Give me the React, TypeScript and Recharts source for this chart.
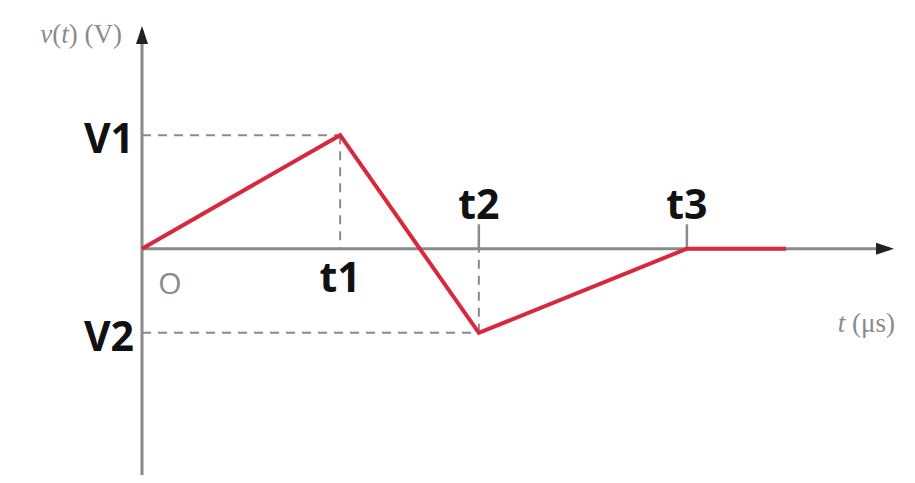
import React from 'react';
import { LineChart, Line, XAxis, YAxis, ReferenceLine, ReferenceDot } from 'recharts';

// waveform corner points (time in arbitrary units, voltage in arbitrary units)
const times = [0, 2, 3.4, 5.5, 6.5];
const volts = [0, 1.35, -1, 0, 0];
const T1 = 2;
const T2 = 3.4;
const T3 = 5.5;
const V1 = 1.35;
const V2 = -1;
const X_MAX = 7.55;
const Y_MIN = -2.69;
const Y_MAX = 2.6;

const data = times.map((t, i) => ({ t, v: volts[i] }));

const AXIS = '#8a8a8a';
const RED = '#d8283e';
const boldFont = '"Open Sans", "Noto Sans", sans-serif';
const serif = '"Liberation Serif", "DejaVu Serif", serif';

const textDot = (txt: React.ReactNode, opts: { anchor?: string; dx?: number; dy?: number; size?: number; color?: string; weight?: number | string; family?: string }) =>
  (p: any) => (
    <text
      x={p.cx + (opts.dx || 0)}
      y={p.cy + (opts.dy || 0)}
      textAnchor={opts.anchor || 'middle'}
      dominantBaseline="central"
      fontSize={opts.size || 41}
      fontWeight={opts.weight || 700}
      fontFamily={opts.family || boldFont}
      fill={opts.color || '#111'}
    >
      {txt}
    </text>
  );

const arrowRight = (p: any) => (
  <path d={`M${p.cx + 4},${p.cy} L${p.cx - 14},${p.cy - 6} L${p.cx - 14},${p.cy + 6} Z`} fill="#222" />
);
const arrowUp = (p: any) => (
  <path d={`M${p.cx},${p.cy - 4} L${p.cx - 6},${p.cy + 14} L${p.cx + 6},${p.cy + 14} Z`} fill="#222" />
);

const App: React.FC = () => {
  return (
    <div style={{ position: 'absolute', left: 0, top: 0, background: '#fff' }}>
      <LineChart width={915} height={483} data={data} margin={{ top: 30, right: 25, left: 142, bottom: 8 }}>
        <XAxis type="number" dataKey="t" domain={[0, X_MAX]} hide />
        <YAxis type="number" domain={[Y_MIN, Y_MAX]} hide />

        {/* axes */}
        <ReferenceLine segment={[{ x: 0, y: 0 }, { x: X_MAX, y: 0 }]} stroke={AXIS} strokeWidth={3} ifOverflow="visible" />
        <ReferenceLine segment={[{ x: 0, y: Y_MIN }, { x: 0, y: Y_MAX }]} stroke={AXIS} strokeWidth={3} ifOverflow="visible" />

        {/* dashed guides */}
        <ReferenceLine segment={[{ x: 0, y: V1 }, { x: T1, y: V1 }]} stroke={AXIS} strokeWidth={2} strokeDasharray="9 7" ifOverflow="visible" />
        <ReferenceLine segment={[{ x: T1, y: V1 }, { x: T1, y: 0 }]} stroke={AXIS} strokeWidth={2} strokeDasharray="9 7" ifOverflow="visible" />
        <ReferenceLine segment={[{ x: 0, y: V2 }, { x: T2, y: V2 }]} stroke={AXIS} strokeWidth={2} strokeDasharray="9 7" ifOverflow="visible" />
        <ReferenceLine segment={[{ x: T2, y: V2 }, { x: T2, y: 0 }]} stroke={AXIS} strokeWidth={2} strokeDasharray="9 7" ifOverflow="visible" />

        {/* small ticks above axis */}
        <ReferenceLine segment={[{ x: T2, y: 0 }, { x: T2, y: 0.29 }]} stroke={AXIS} strokeWidth={2.5} ifOverflow="visible" />
        <ReferenceLine segment={[{ x: T3, y: 0 }, { x: T3, y: 0.29 }]} stroke={AXIS} strokeWidth={2.5} ifOverflow="visible" />

        <Line
          type="linear"
          dataKey="v"
          stroke={RED}
          strokeWidth={4}
          dot={false}
          activeDot={false}
          isAnimationActive={false}
        />

        {/* arrowheads */}
        <ReferenceDot x={X_MAX} y={0} r={0} shape={arrowRight} ifOverflow="visible" />
        <ReferenceDot x={0} y={Y_MAX} r={0} shape={arrowUp} ifOverflow="visible" />

        {/* labels */}
        <ReferenceDot x={0} y={V1} r={0} ifOverflow="visible" shape={textDot('V1', { anchor: 'end', dx: -8, dy: 2 })} />
        <ReferenceDot x={0} y={V2} r={0} ifOverflow="visible" shape={textDot('V2', { anchor: 'end', dx: -8, dy: 2 })} />
        <ReferenceDot x={T1} y={0} r={0} ifOverflow="visible" shape={textDot('t1', { dy: 27 })} />
        <ReferenceDot x={T2} y={0} r={0} ifOverflow="visible" shape={textDot('t2', { dy: -46 })} />
        <ReferenceDot x={T3} y={0} r={0} ifOverflow="visible" shape={textDot('t3', { dy: -46 })} />
        <ReferenceDot x={0} y={0} r={0} ifOverflow="visible" shape={textDot('O', { dx: 28, dy: 34, size: 30, weight: 400, color: '#8a8a8a' })} />
        <ReferenceDot
          x={0}
          y={Y_MAX}
          r={0}
          ifOverflow="visible"
          shape={textDot(
            <>
              <tspan fontStyle="italic">v</tspan>(<tspan fontStyle="italic">t</tspan>) (V)
            </>,
            { anchor: 'end', dx: -20, dy: 4, size: 27, weight: 400, color: '#8a8a8a', family: serif }
          )}
        />
        <ReferenceDot
          x={X_MAX}
          y={0}
          r={0}
          ifOverflow="visible"
          shape={textDot(
            <>
              <tspan fontStyle="italic">t</tspan> (μs)
            </>,
            { anchor: 'end', dx: 5, dy: 74, size: 27, weight: 400, color: '#8a8a8a', family: serif }
          )}
        />
      </LineChart>
    </div>
  );
};

export default App;
